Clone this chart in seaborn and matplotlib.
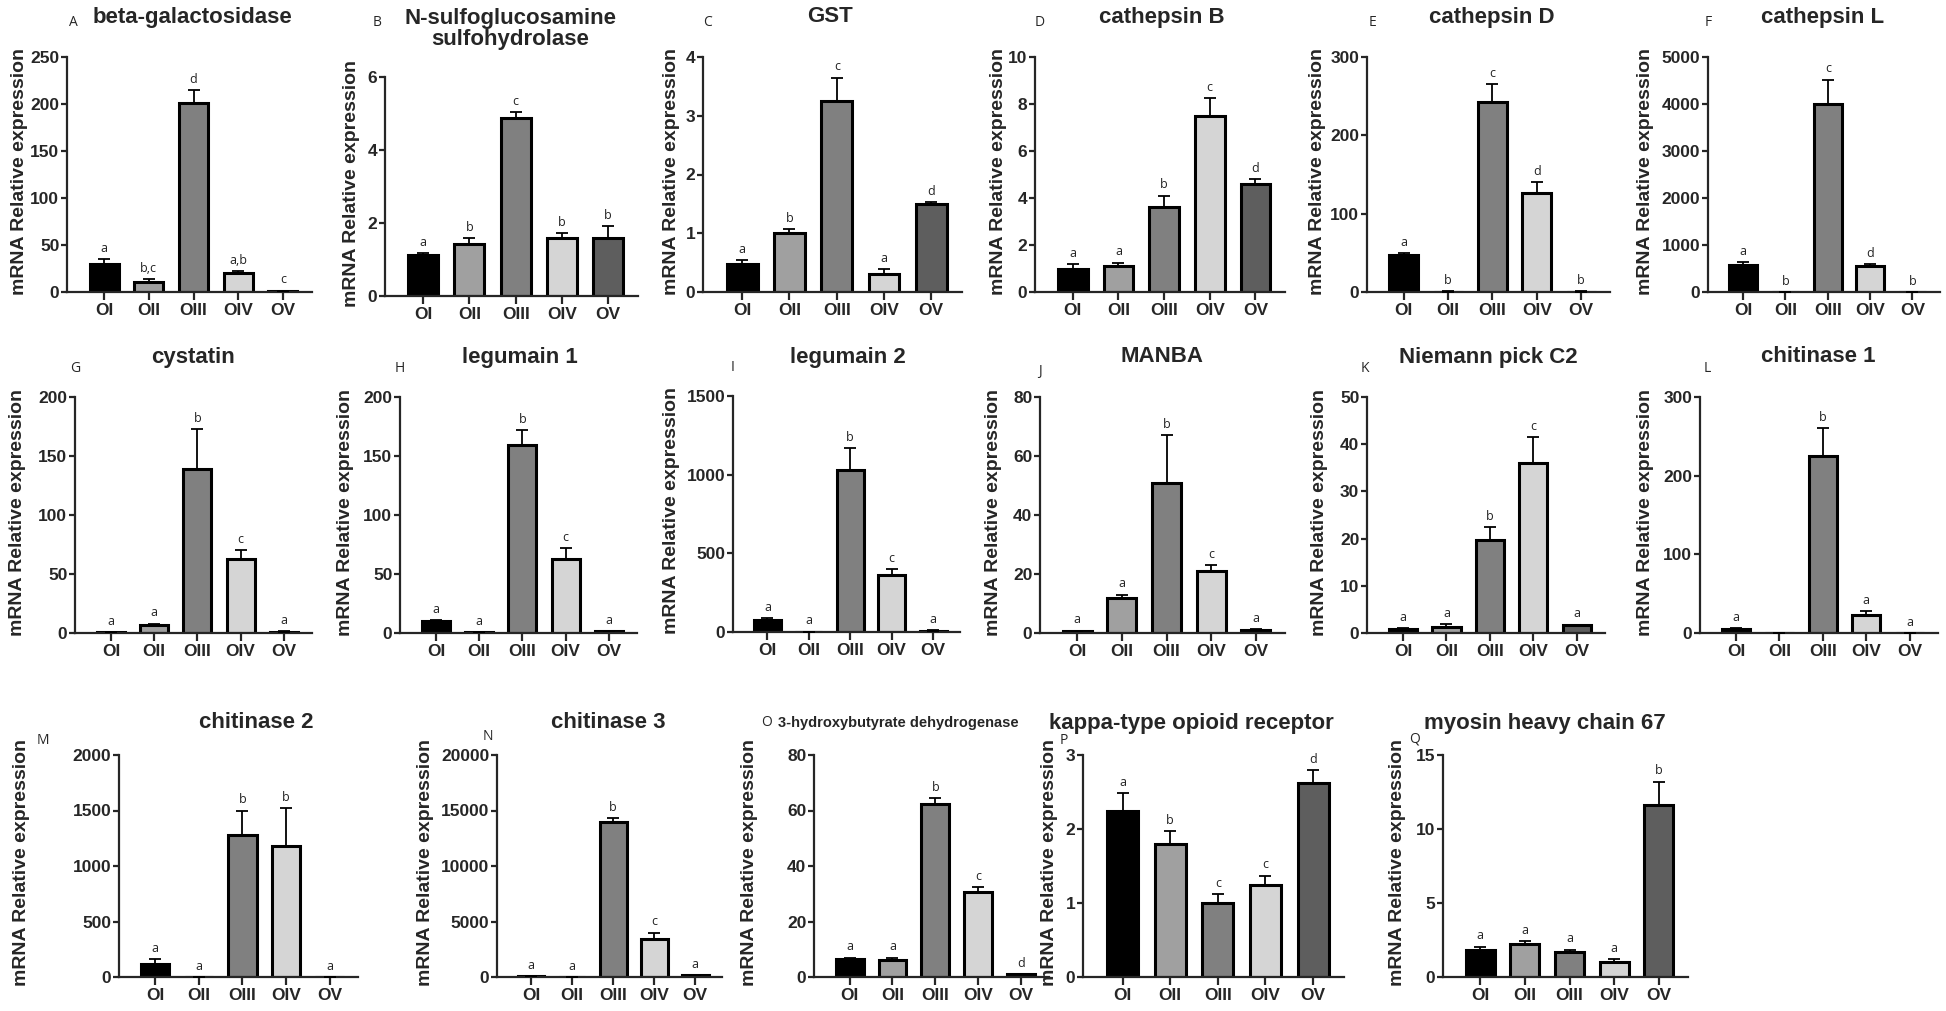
import numpy as np
import pandas as pd
import seaborn as sns
import matplotlib.pyplot as plt

groups = ['OI', 'OII', 'OIII', 'OIV', 'OV']
bar_colors = ['#000000', '#a0a0a0', '#808080', '#d5d5d5', '#5e5e5e']

# mean, upper error (SE) and significance letters, one set per gene
beta_gal = [30, 11, 201, 20, 1]
beta_gal_se = [5, 3, 14, 2, 0.5]
beta_gal_sig = ['a', 'b,c', 'd', 'a,b', 'c']

sgsh = [1.12, 1.43, 4.88, 1.6, 1.6]
sgsh_se = [0.05, 0.16, 0.16, 0.12, 0.32]
sgsh_sig = ['a', 'b', 'c', 'b', 'b']

gst = [0.48, 1.0, 3.25, 0.31, 1.5]
gst_se = [0.07, 0.07, 0.4, 0.08, 0.03]
gst_sig = ['a', 'b', 'c', 'a', 'd']

cts_b = [1.0, 1.1, 3.6, 7.5, 4.6]
cts_b_se = [0.2, 0.15, 0.5, 0.75, 0.2]
cts_b_sig = ['a', 'a', 'b', 'c', 'd']

cts_d = [47, 0.5, 243, 127, 0.5]
cts_d_se = [3, 0.3, 22, 13, 0.3]
cts_d_sig = ['a', 'b', 'c', 'd', 'b']

cts_l = [580, 2, 4000, 560, 2]
cts_l_se = [50, 1, 520, 40, 1]
cts_l_sig = ['a', 'b', 'c', 'd', 'b']

cystatin = [0.5, 7, 139, 63, 1]
cystatin_se = [0.2, 1, 34, 7, 0.3]
cystatin_sig = ['a', 'a', 'b', 'c', 'a']

legumain1 = [10, 0.5, 159, 63, 1.5]
legumain1_se = [1, 0.2, 13, 9, 0.3]
legumain1_sig = ['a', 'a', 'b', 'c', 'a']

legumain2 = [75, 2, 1030, 360, 8]
legumain2_se = [15, 1, 140, 40, 2]
legumain2_sig = ['a', 'a', 'b', 'c', 'a']

manba = [0.6, 12, 51, 21, 0.9]
manba_se = [0.2, 1, 16, 2, 0.3]
manba_sig = ['a', 'a', 'b', 'c', 'a']

npc2 = [0.9, 1.3, 19.7, 36, 1.6]
npc2_se = [0.2, 0.6, 2.7, 5.5, 0.2]
npc2_sig = ['a', 'a', 'b', 'c', 'a']

chit1 = [5, 0.3, 225, 23, 0.3]
chit1_se = [1, 0.1, 35, 5, 0.1]
chit1_sig = ['a', '', 'b', 'a', 'a']

chit2 = [120, 2, 1280, 1180, 2]
chit2_se = [40, 1, 220, 340, 1]
chit2_sig = ['a', 'a', 'b', 'b', 'a']

chit3 = [100, 20, 14000, 3400, 150]
chit3_se = [20, 10, 300, 600, 30]
chit3_sig = ['a', 'a', 'b', 'c', 'a']

bdh = [6.5, 6.3, 62.5, 30.5, 1.0]
bdh_se = [0.5, 0.7, 2, 2, 0.2]
bdh_sig = ['a', 'a', 'b', 'c', 'd']

kor = [2.25, 1.8, 1.0, 1.25, 2.62]
kor_se = [0.23, 0.17, 0.12, 0.12, 0.18]
kor_sig = ['a', 'b', 'c', 'c', 'd']

mhc67 = [1.85, 2.2, 1.7, 1.0, 11.6]
mhc67_se = [0.2, 0.2, 0.15, 0.2, 1.6]
mhc67_sig = ['a', 'a', 'a', 'a', 'b']

panel_titles = ['beta-galactosidase', 'N-sulfoglucosamine\nsulfohydrolase', 'GST',
                'cathepsin B', 'cathepsin D', 'cathepsin L',
                'cystatin', 'legumain 1', 'legumain 2', 'MANBA', 'Niemann pick C2',
                'chitinase 1', 'chitinase 2', 'chitinase 3',
                '3-hydroxybutyrate dehydrogenase', 'kappa-type opioid receptor',
                'myosin heavy chain 67']
panel_letters = list('ABCDEFGHIJKLMNOPQ')
panel_ymax = [250, 6, 4, 10, 300, 5000, 200, 200, 1500, 80, 50, 300,
              2000, 20000, 80, 3, 15]
panel_ystep = [50, 2, 1, 2, 100, 1000, 50, 50, 500, 20, 10, 100,
               500, 5000, 20, 1, 5]
panel_means = [beta_gal, sgsh, gst, cts_b, cts_d, cts_l, cystatin, legumain1,
               legumain2, manba, npc2, chit1, chit2, chit3, bdh, kor, mhc67]
panel_errs = [beta_gal_se, sgsh_se, gst_se, cts_b_se, cts_d_se, cts_l_se,
              cystatin_se, legumain1_se, legumain2_se, manba_se, npc2_se,
              chit1_se, chit2_se, chit3_se, bdh_se, kor_se, mhc67_se]
panel_sigs = [beta_gal_sig, sgsh_sig, gst_sig, cts_b_sig, cts_d_sig, cts_l_sig,
              cystatin_sig, legumain1_sig, legumain2_sig, manba_sig, npc2_sig,
              chit1_sig, chit2_sig, chit3_sig, bdh_sig, kor_sig, mhc67_sig]

# layout in pixels: (left, right, top, bottom) of each axes
boxes = [(67, 312, 57, 292), (385, 638, 77, 296), (703, 962, 57, 292),
         (1035, 1285, 57, 292), (1367, 1610, 57, 292), (1708, 1940, 57, 292),
         (75, 312, 397, 633), (400, 637, 397, 633), (733, 960, 396, 632),
         (1040, 1285, 397, 633), (1367, 1605, 397, 633), (1700, 1938, 397, 633),
         (119, 358, 755, 977), (497, 722, 755, 977), (814, 1049, 755, 977),
         (1083, 1344, 755, 977), (1443, 1688, 755, 977)]
title_pos = [(192, 18), (510, 29), (830, 17), (1162, 17), (1492, 17), (1823, 17),
             (193, 357), (520, 357), (848, 357), (1162, 357), (1488, 357), (1818, 357),
             (256, 723), (608, 723), (898, 723), (1191, 723), (1545, 723)]
letter_pos = [(73, 23), (377, 23), (708, 23), (1040, 23), (1372, 23), (1708, 23),
              (75, 368), (400, 368), (733, 367), (1040, 372), (1365, 368), (1707, 368),
              (43, 741), (488, 736), (767, 723), (1064, 741), (1415, 739)]
ylabel_x = [20, 352, 672, 999, 1317, 1645, 18, 345, 672, 993, 1320, 1645,
            22, 425, 750, 1050, 1398]

W, H = 1946, 1011
sns.set_theme(style='ticks')
plt.rcParams['font.family'] = ['Liberation Sans', 'DejaVu Sans']

fig = plt.figure(figsize=(W / 100, H / 100), dpi=100)
fig.patch.set_facecolor('white')

for k in range(17):
    l, r, t, b = boxes[k]
    ax = fig.add_axes([l / W, 1 - b / H, (r - l) / W, (b - t) / H])
    vals = panel_means[k]
    errs = panel_errs[k]
    df = pd.DataFrame({'group': groups, 'value': vals})
    sns.barplot(data=df, x='group', y='value', hue='group', palette=bar_colors,
                legend=False, width=0.65, saturation=1, edgecolor='black',
                linewidth=2.2, errorbar=None, ax=ax)
    ax.errorbar(range(5), vals, yerr=[np.zeros(5), errs], fmt='none',
                ecolor='black', elinewidth=1.3, capsize=4.5, capthick=1.3, zorder=3)
    for i in range(5):
        if panel_sigs[k][i]:
            ax.annotate(panel_sigs[k][i], (i, vals[i] + errs[i]), xytext=(0, 3),
                        textcoords='offset points', ha='center', va='bottom',
                        fontsize=9, family='Open Sans', color='#222222')
    ymax = panel_ymax[k]
    ax.set_ylim(0, ymax)
    ax.set_yticks(np.arange(0, ymax + panel_ystep[k] / 2, panel_ystep[k]))
    ax.set_xlim(-0.83, 4.65)
    ax.set_xlabel('')
    ax.set_ylabel('')
    sns.despine(ax=ax)
    for s in ['left', 'bottom']:
        ax.spines[s].set_linewidth(1.6)
    ax.tick_params(axis='y', length=4.5, width=1.6, direction='out',
                   labelsize=12.5, pad=1)
    ax.tick_params(axis='x', length=5.5, width=1.6, direction='out',
                   labelsize=12.5, pad=2.5)
    for lab in ax.get_xticklabels() + ax.get_yticklabels():
        lab.set_fontweight('bold')

    fig.text(ylabel_x[k] / W, 1 - ((t + b) / 2 - 3) / H, 'mRNA Relative expression',
             rotation=90, ha='center', va='center', fontsize=14, fontweight='bold')

    tx, ty = title_pos[k]
    fs = 10.5 if k == 14 else 16
    fig.text(tx / W, 1 - ty / H, panel_titles[k], ha='center', va='center',
             fontsize=fs, fontweight='bold', linespacing=1.05)
    lx, ly = letter_pos[k]
    fig.text(lx / W, 1 - ly / H, panel_letters[k], ha='center', va='center',
             fontsize=10, family='Open Sans')

fig.savefig('out.png', dpi=100)
